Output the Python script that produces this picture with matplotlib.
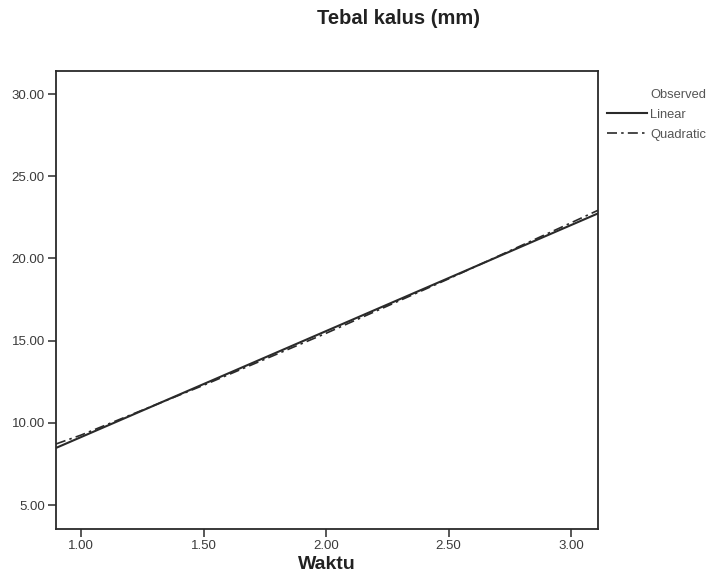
import matplotlib
matplotlib.use("Agg")
import matplotlib.pyplot as plt
from matplotlib.lines import Line2D

plt.rcParams["font.family"] = ["Liberation Sans", "DejaVu Sans"]

# values
linear_x = [0.898, 3.11]
linear_y = [8.48, 22.74]

quad_x = [0.898, 1.0, 1.5, 2.0, 2.5, 3.0, 3.11]
quad_y = [8.72, 9.26, 12.29, 15.45, 18.76, 22.17, 22.93]

x_ticks = [1.0, 1.5, 2.0, 2.5, 3.0]
y_ticks = [5.0, 10.0, 15.0, 20.0, 25.0, 30.0]

legend_labels = ["Observed", "Linear", "Quadratic"]

line_col = "#2a2a2a"
text_col = "#3a3a3a"

fig = plt.figure(figsize=(7.13, 5.84), dpi=100)
ax = fig.add_axes([56 / 713, 1 - 529 / 584, (598 - 56) / 713, (529 - 71) / 584])

ax.plot(linear_x, linear_y, color=line_col, lw=1.5, solid_capstyle="butt")
ax.plot(quad_x, quad_y, color=line_col, lw=1.2, dashes=(6, 2.5, 1.5, 2.5))

ax.set_xlim(0.898, 3.11)
ax.set_ylim(3.55, 31.4)
ax.set_xticks(x_ticks)
ax.set_yticks(y_ticks)
ax.set_xticklabels([f"{v:.2f}" for v in x_ticks])
ax.set_yticklabels([f"{v:.2f}" for v in y_ticks])
ax.tick_params(direction="out", length=5.5, width=1.1, color=line_col,
               labelsize=9.5, labelcolor=text_col, pad=2.5)
for s in ax.spines.values():
    s.set_linewidth(1.3)
    s.set_color(line_col)

ax.set_xlabel("Waktu", fontsize=14, fontweight="bold", color="#222222", labelpad=3)
fig.text(399 / 713, 1 - 19 / 584, "Tebal kalus (mm)", ha="center", va="center",
         fontsize=14.5, fontweight="bold", color="#222222")

handles = [
    Line2D([], [], ls="none"),
    Line2D([], [], color=line_col, lw=1.5),
    Line2D([], [], color=line_col, lw=1.2, dashes=(6, 2.5, 1.5, 2.5)),
]
fig.legend(handles, legend_labels, loc="upper left", bbox_to_anchor=(602 / 713, 1 - 84 / 584),
           frameon=False, fontsize=9.3, labelcolor="#555555", handlelength=3.1,
           handletextpad=0.25, labelspacing=0.6, borderaxespad=0)

plt.savefig("out.png", dpi=100)
plt.close()
